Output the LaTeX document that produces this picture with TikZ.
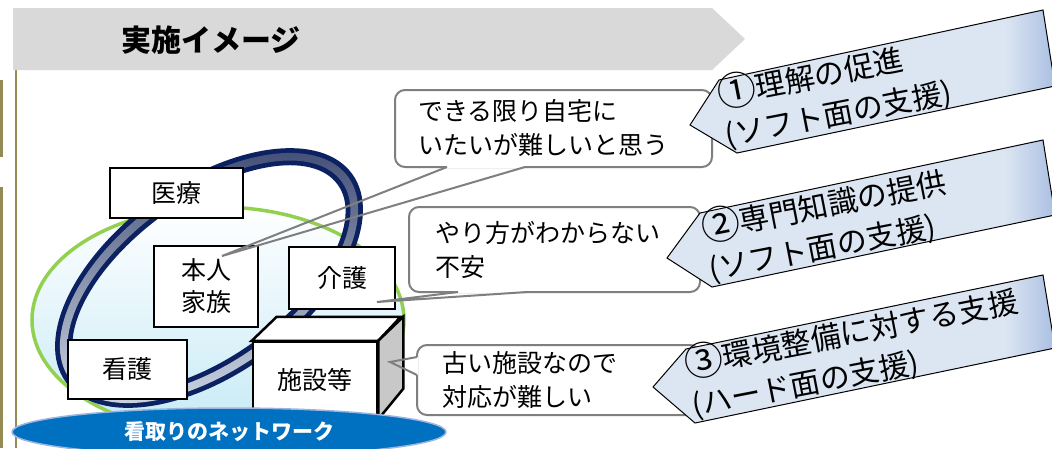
\documentclass[tikz,border=0pt]{standalone}
\usepackage{fontspec}
\setmainfont{Noto Sans CJK JP}
\usetikzlibrary{shapes.geometric}

\definecolor{bannergrau}{HTML}{D9D9D9}
\definecolor{oliv}{HTML}{948A54}
\definecolor{gruen}{HTML}{92D050}
\definecolor{hellblau}{HTML}{C6EAF6}
\definecolor{ringblau}{HTML}{0C2161}
\definecolor{ringdunkel}{HTML}{3F4B73}
\definecolor{ringhell}{HTML}{CDD7E3}
\definecolor{netzblau}{HTML}{0070C0}
\definecolor{netzrand}{HTML}{9DB4DE}
\definecolor{sprechgrau}{HTML}{7F7F7F}
\definecolor{pfeilblau}{HTML}{DCE6F2}
\definecolor{pfeilrand}{HTML}{A5BBE0}
\definecolor{seitengrau}{HTML}{C8C8C8}

\begin{document}
\begin{tikzpicture}[x=1pt,y=-1pt,
		kasten/.style={draw, line width=2.5pt, fill=white, inner sep=0pt, align=center, font=\fontsize{25}{32}\selectfont},
		sprechblase/.style={draw=sprechgrau, line width=2pt, fill=white, rounded corners=10pt, align=left, inner ysep=0pt, font=\fontsize{25}{34}\selectfont},
		zeiger/.style={draw=sprechgrau, line width=2pt},
		pfeil/.style={draw=black, line width=1pt},
		pfeiltext/.style={rotate=11, anchor=west, align=left, inner sep=0pt, font=\fontsize{30}{41}\selectfont}]
		% Rahmen
		\clip (0,0) rectangle (1052,448);
		\fill[white] (0,0) rectangle (1052,448);
		\draw[oliv, line width=2pt] (16,68) to (16,448);
		\draw[oliv, line width=3pt] (1,80) to (1,157);
		\draw[oliv, line width=3pt] (1,187) to (1,448);
		
		% Titelleiste
		\fill[bannergrau] (13,8) -- (712,8) -- (745,39) -- (712,70) -- (13,70) -- cycle;
		\node[font=\bfseries\fontsize{30}{30}\selectfont] (titel) at (211,40) {実施イメージ};
		
		% Netzwerk: Ellipse und Ring
		\coordinate (mitte) at (218,320);
		\draw[gruen, line width=3.5pt, top color=white, bottom color=hellblau] (mitte) ellipse [x radius=186pt, y radius=113pt];
		\coordinate (ring) at (209,278);
		\begin{scope}[even odd rule, rotate around={36:(ring)}]
			\fill[ringblau] (ring) ellipse [x radius=177pt, y radius=96pt] (ring) ellipse [x radius=159pt, y radius=78pt];
			\clip (ring) ellipse [x radius=172pt, y radius=91pt] (ring) ellipse [x radius=164pt, y radius=83pt];
			\shade[rotate around={-36:(ring)}, top color=ringdunkel, bottom color=ringhell] (30,140) rectangle (390,410);
		\end{scope}
		
		% Beteiligte
		\node[kasten, minimum width=133pt, minimum height=50pt] (iryo) at (176.5,193) {医療};
		\node[kasten, minimum width=104pt, minimum height=81pt] (honnin) at (206,286.5) {本人\\家族};
		\node[kasten, minimum width=106pt, minimum height=62pt] (kaigo) at (342,278) {介護};
		\node[kasten, minimum width=119pt, minimum height=59pt] (kango) at (127.5,369.5) {看護};
		
		% Einrichtung als Quader
		\node[kasten, minimum width=124pt, minimum height=76pt] (shisetsu) at (315,380) {施設等};
		\filldraw[line width=2.5pt, fill=white] (shisetsu.north west) -- ++(25,-24) -- ++(124,0) -- (shisetsu.north east) -- cycle;
		\filldraw[line width=2.5pt, fill=seitengrau] (shisetsu.north east) -- ++(25,-24) -- ++(0,72) -- (shisetsu.south east) -- cycle;
		
		\node[ellipse, draw=netzrand, line width=1.5pt, fill=netzblau, minimum width=434pt, minimum height=48pt, text=white, font=\bfseries\fontsize{21}{21}\selectfont] (netz) at (229,432) {看取りのネットワーク};
		
		% Sprechblasen
		\node[sprechblase, minimum width=317pt, minimum height=77pt, text width=271pt] (wunsch) at (553.5,128.5) {できる限り自宅に\\いたいが難しいと思う};
		\node[sprechblase, minimum width=291pt, minimum height=85pt, text width=239pt] (angst) at (554.5,249.5) {やり方がわからない\\不安};
		\node[sprechblase, minimum width=283pt, minimum height=70pt, text width=233pt] (alt) at (558.5,380) {古い施設なので\\対応が難しい};
		
		% Zeiger
		\coordinate (z1a) at (447,167);
		\coordinate (z1b) at (525,167);
		\coordinate (z1s) at (222,256);
		\draw[white, line width=2.5pt] (z1a) to (z1b);
		\draw[zeiger] (z1a) -- (z1s) -- (z1b);
		\coordinate (z2a) at (458,292);
		\coordinate (z2b) at (527,292);
		\coordinate (z2s) at (377,302);
		\draw[white, line width=2.5pt] (z2a) to (z2b);
		\draw[zeiger] (z2a) -- (z2s) -- (z2b);
		\coordinate (z3a) at (417,357);
		\coordinate (z3b) at (417,375);
		\coordinate (z3s) at (390,362);
		\draw[white, line width=2.5pt] (z3a) to (z3b);
		\draw[zeiger] (z3a) -- (z3s) -- (z3b);
		
		% Unterstuetzung
		\fill[pfeilblau] (690,125) -- (719,80) -- (1043,10) -- (1055,86) -- (737,153) -- cycle;
		\begin{scope}
			\clip (690,125) -- (719,80) -- (1043,10) -- (1055,86) -- (737,153) -- cycle;
			\shade[left color=pfeilblau, right color=pfeilrand] (1005,0) rectangle (1060,448);
		\end{scope}
		\draw[pfeil] (690,125) -- (719,80) -- (1043,10) -- (1055,86) -- (737,153) -- cycle;
		\node[pfeiltext] (hilfe1) at (721,114) {\raisebox{-0.06em}{\scalebox{1.3}{①}}理解の促進\\(ソフト面の支援)};
		
		\fill[pfeilblau] (667,258) -- (700,213) -- (1043,140) -- (1055,215) -- (712,287) -- cycle;
		\begin{scope}
			\clip (667,258) -- (700,213) -- (1043,140) -- (1055,215) -- (712,287) -- cycle;
			\shade[left color=pfeilblau, right color=pfeilrand] (1005,0) rectangle (1060,448);
		\end{scope}
		\draw[pfeil] (667,258) -- (700,213) -- (1043,140) -- (1055,215) -- (712,287) -- cycle;
		\node[pfeiltext] (hilfe2) at (705,248) {\raisebox{-0.06em}{\scalebox{1.3}{②}}専門知識の提供\\(ソフト面の支援)};
		
		\fill[pfeilblau] (653,387) -- (686,349) -- (1043,275) -- (1055,348) -- (695,423) -- cycle;
		\begin{scope}
			\clip (653,387) -- (686,349) -- (1043,275) -- (1055,348) -- (695,423) -- cycle;
			\shade[left color=pfeilblau, right color=pfeilrand] (1005,0) rectangle (1060,448);
		\end{scope}
		\draw[pfeil] (653,387) -- (686,349) -- (1043,275) -- (1055,348) -- (695,423) -- cycle;
		\node[pfeiltext] (hilfe3) at (688,384) {\raisebox{-0.06em}{\scalebox{1.3}{③}}環境整備に対する支援\\(ハード面の支援)};
	\end{tikzpicture}
\end{document}
